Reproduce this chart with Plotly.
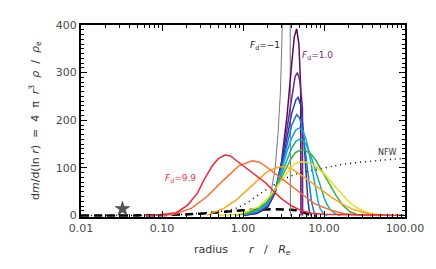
import plotly.graph_objects as go

# ---------------- data ----------------
fd_labels = ["-1", "1.0", "1.9", "2.8", "3.7", "4.6", "5.4", "6.3", "7.2", "8.1", "9.0", "9.9"]

grey_r = [1.0, 1.5, 1.9, 2.2, 2.5, 2.7, 2.9, 3.1, 3.3, 3.8, 3.85, 4.0]
grey_v = [0, 4, 20, 45, 100, 170, 260, 360, 600, 900, 0, 0]

c1_r = [1.0, 1.5, 2.0, 2.5, 3.0, 3.5, 4.0, 4.3, 4.6, 4.9, 5.15, 5.2]
c1_v = [0, 5, 16, 48, 115, 210, 320, 375, 392, 360, 270, 0]

c2_r = [1.0, 1.5, 2.0, 2.5, 3.0, 3.5, 4.0, 4.4, 4.7, 5.0, 5.3, 5.42, 5.45]
c2_v = [1, 6, 18, 50, 110, 185, 255, 292, 300, 285, 245, 225, 0]

c3_r = [1.0, 1.5, 2.0, 2.5, 3.0, 3.5, 4.0, 4.5, 4.8, 5.2, 5.6, 6.0, 6.3, 6.6, 7.0]
c3_v = [1, 7, 20, 53, 105, 165, 215, 243, 248, 230, 170, 90, 35, 8, 0]

c4_r = [1.0, 1.5, 2.0, 2.5, 3.0, 3.5, 4.0, 4.6, 5.0, 5.5, 6.0, 6.5, 7.0, 7.5, 8.0]
c4_v = [1, 8, 22, 55, 100, 150, 190, 212, 205, 175, 125, 70, 30, 8, 0]

c5_r = [1.0, 1.5, 2.0, 2.5, 3.0, 3.5, 4.0, 4.5, 5.0, 5.5, 6.0, 6.5, 7.0, 7.5, 8.0, 8.5, 9.0, 10.0, 11.0]
c5_v = [2, 9, 24, 55, 95, 135, 163, 180, 184, 178, 160, 135, 105, 75, 48, 28, 14, 3, 0]

c6_r = [1.0, 1.5, 2.0, 2.5, 3.0, 3.5, 4.0, 4.5, 5.0, 5.5, 6.0, 7.0, 8.0, 9.0, 10.0, 11.0, 12.0, 14.0, 16.0]
c6_v = [2, 11, 27, 55, 88, 118, 142, 156, 160, 158, 150, 122, 90, 60, 38, 22, 12, 3, 0]

c7_r = [0.8, 1.0, 1.5, 2.0, 2.5, 3.0, 3.5, 4.0, 4.5, 5.3, 6.0, 7.0, 8.0, 10.0, 12.0, 14.0, 17.0, 21.0, 26.0, 30.0]
c7_v = [1, 3, 13, 30, 55, 82, 105, 122, 133, 138, 136, 128, 115, 88, 63, 43, 22, 8, 2, 0]

c8_r = [0.5, 0.8, 1.0, 1.5, 2.0, 2.5, 3.0, 3.5, 4.0, 4.5, 5.3, 6.0, 7.0, 8.0, 10.0, 13.0, 16.0, 20.0, 25.0, 32.0, 41.0, 55.0, 70.0]
c8_v = [0, 2, 5, 17, 35, 55, 75, 90, 102, 110, 113, 112, 108, 102, 88, 66, 48, 30, 17, 8, 3, 1, 0]

c9_r = [0.36, 0.58, 0.83, 1.2, 1.92, 2.5, 3.06, 4.0, 5.0, 6.0, 8.0, 10.0, 13.0, 17.0, 22.0, 30.0, 40.0, 55.0, 70.0]
c9_v = [1, 15, 33, 58, 90, 100, 103, 98, 88, 78, 62, 50, 36, 24, 14, 7, 3, 1, 0]

c10_r = [0.1, 0.14, 0.23, 0.36, 0.58, 0.9, 1.3, 1.6, 1.92, 2.5, 3.36, 4.9, 7.6, 12.3, 17.8, 30.0, 50.0]
c10_v = [0, 3, 15, 40, 75, 105, 115, 112, 103, 88, 70, 48, 25, 11, 4, 1, 0]

c11_r = [0.06, 0.1, 0.15, 0.207, 0.274, 0.33, 0.42, 0.5, 0.6, 0.7, 0.85, 1.0, 1.3, 1.6, 1.92, 2.5, 3.0, 4.0, 5.3, 7.0, 10.0, 20.0, 50.0, 100.0]
c11_v = [0, 1.5, 6, 22, 47, 75, 105, 120, 127, 125, 114, 105, 90, 80, 68, 48, 35, 20, 10, 5, 3, 1.5, 1, 0.5]

nfw_r = [0.01, 0.1, 0.3, 0.69, 1.0, 1.92, 4.03, 10.2, 17.8, 50.0, 100.0]
nfw_v = [0, 1, 5, 12, 22, 54, 84, 100, 108, 116, 120]

dash_r = [0.01, 0.1, 0.3, 0.6, 1.0, 2.0, 4.0, 5.0, 6.5, 8.0]
dash_v = [0, 1, 4, 8, 11, 13, 12, 10, 2, 0]

star_r = [0.0325]
star_v = [14]

x_tickvals = [0.01, 0.1, 1, 10, 100]
x_ticktext = ["0.01", "0.10", "1.00", "10.00", "100.00"]
y_tickvals = [0, 100, 200, 300, 400]

curve_r = [c1_r, c2_r, c3_r, c4_r, c5_r, c6_r, c7_r, c8_r, c9_r, c10_r, c11_r]
curve_v = [c1_v, c2_v, c3_v, c4_v, c5_v, c6_v, c7_v, c8_v, c9_v, c10_v, c11_v]
colors = ["#5c0a5e", "#6e2392", "#2440a8", "#1c74d4", "#14a6e0", "#12b0a4",
          "#34b048", "#e6e01c", "#ffa514", "#ff6a2a", "#f0283a"]

fig = go.Figure()

fig.add_trace(go.Scatter(x=nfw_r, y=nfw_v, mode="lines",
                         line=dict(color="black", width=1.5, dash="1px,4px", shape="spline"),
                         showlegend=False))
fig.add_trace(go.Scatter(x=dash_r, y=dash_v, mode="lines",
                         line=dict(color="black", width=2.5, dash="8px,5px", shape="spline"),
                         showlegend=False))
fig.add_trace(go.Scatter(x=grey_r, y=grey_v, mode="lines",
                         line=dict(color="#777777", width=1), showlegend=False))
for r, v, c in zip(curve_r, curve_v, colors):
    fig.add_trace(go.Scatter(x=r, y=v, mode="lines",
                             line=dict(color=c, width=1.5), showlegend=False))
fig.add_trace(go.Scatter(x=star_r, y=star_v, mode="markers",
                         marker=dict(symbol="star", size=11, color="#555555",
                                     line=dict(color="#333333", width=0.5)),
                         showlegend=False))

font = "DejaVu Sans"
axis_common = dict(showline=True, linecolor="black", linewidth=2, mirror="allticks",
                   ticks="inside", ticklen=6, tickwidth=1, tickcolor="black",
                   showgrid=False, zeroline=False,
                   tickfont=dict(family=font, size=11, color="#4a4a4a"))

fig.update_xaxes(type="log", range=[-2, 2], tickvals=x_tickvals, ticktext=x_ticktext,
                 minor=dict(ticks="inside", ticklen=3, tickcolor="black", dtick="D1",
                            showgrid=False),
                 **axis_common)
fig.update_yaxes(range=[-3, 400], tickvals=y_tickvals,
                 minor=dict(ticks="inside", ticklen=3, tickcolor="black", dtick=10,
                            showgrid=False),
                 **axis_common)

ann_font = dict(family=font, size=11, color="#333333")
center = dict(xref="paper", yref="paper", xanchor="center", yanchor="middle", showarrow=False)
annotations = [
    dict(x=-0.142, y=0.505, textangle=-90,
         text="d<i>m</i>/d(ln <i>r</i>)  =  4  π  <i>r</i><sup>3</sup>  <i>ρ</i>  /  <i>ρ</i><sub>e</sub>",
         font=ann_font, **center),
    dict(x=0.498, y=-0.172,
         text="radius      <i>r</i>   /   <i>R</i><sub>e</sub>",
         font=ann_font, **center),
    dict(x=0.568, y=0.891,
         text="<i>F</i><sub>d</sub>=−1",
         font=dict(family=font, size=9, color="#222222"), **center),
    dict(x=0.730, y=0.839,
         text="<i>F</i><sub>d</sub>=1.0",
         font=dict(family=font, size=9, color="#7a2a7a"), **center),
    dict(x=0.308, y=0.203,
         text="<i>F</i><sub>d</sub>=9.9",
         font=dict(family=font, size=9, color="#f0303c"), **center),
    dict(x=0.947, y=0.335,
         text="NFW",
         font=dict(family=font, size=8, color="#333333"), **center),
]
fig.update_layout(width=436, height=269, margin=dict(l=81, r=24, t=25, b=52),
                  plot_bgcolor="white", paper_bgcolor="white",
                  annotations=annotations, showlegend=False)

fig.write_html("out.html", config={"displayModeBar": False},
               post_script="document.body.style.margin='0';document.body.style.overflow='hidden';")
